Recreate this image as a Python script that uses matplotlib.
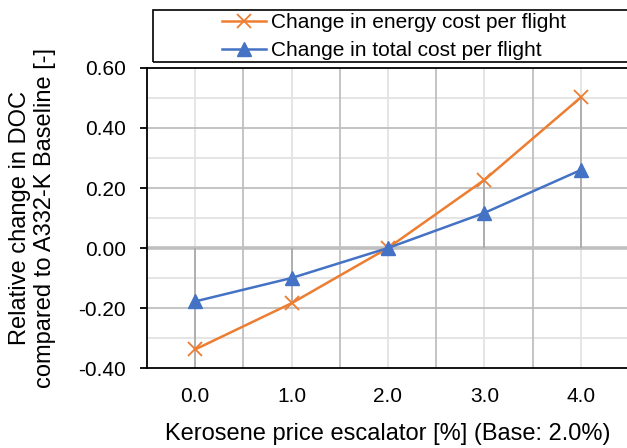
import matplotlib

matplotlib.use("Agg")

import matplotlib.pyplot as plt
import numpy as np
from matplotlib.patches import Rectangle

# Excel-like chart colours
ORANGE = "#ED7D31"
BLUE = "#4472C4"
GRID_MAJOR = "#BFBFBF"
GRID_MINOR = "#E3E3E3"

# data
escalator = ["0.0", "1.0", "2.0", "3.0", "4.0"]
energy_cost = [-0.338, -0.184, 0.0, 0.227, 0.502]
total_cost = [-0.178, -0.100, 0.0, 0.117, 0.260]
y_ticks = [-0.40, -0.20, 0.00, 0.20, 0.40, 0.60]

plt.rcParams.update(
    {
        "font.family": ["Liberation Sans", "DejaVu Sans"],
        "font.size": 15,
        "axes.linewidth": 1.3,
    }
)

W, H = 627, 448
fig = plt.figure(figsize=(W / 100, H / 100), dpi=100)
fig.patch.set_facecolor("white")

# plot area in pixels: left 147, right 629, top 68, bottom 368
ax = fig.add_axes([147 / W, (H - 368) / H, (629 - 147) / W, 300 / H])
x = np.arange(len(escalator))

ax.set_xlim(-0.5, len(escalator) - 0.5)
ax.set_ylim(y_ticks[0], y_ticks[-1])

# grid: minor lines at category centres / 0.1 steps, major at boundaries / 0.2 steps
for xc in x:
    ax.axvline(xc, color=GRID_MINOR, lw=1.3, zorder=0)
for xb in np.arange(-0.5, len(escalator), 1.0)[1:]:
    ax.axvline(xb, color=GRID_MAJOR, lw=1.3, zorder=0.5)
for yv in np.arange(y_ticks[0] + 0.1, y_ticks[-1], 0.2):
    ax.axhline(yv, color=GRID_MINOR, lw=1.3, zorder=0)
for yv in y_ticks[1:-1]:
    ax.axhline(yv, color=GRID_MAJOR, lw=1.3, zorder=0.5)
ax.axhline(0, color=GRID_MAJOR, lw=2.6, zorder=0.6)

# drop lines from the zero axis to the furthest point at each category
ends = [e if abs(e) >= abs(t) else t for e, t in zip(energy_cost, total_cost)]
ends[0] = y_ticks[0]
ax.vlines(x, 0, ends, color="#ABABAB", lw=1.3, zorder=0.7)

ax.plot(x, energy_cost, color=ORANGE, lw=1.8, marker="x", ms=10, mew=1.3,
        label="Change in energy cost per flight", zorder=3)
ax.plot(x, total_cost, color=BLUE, lw=1.8, marker="^", ms=10,
        label="Change in total cost per flight", zorder=3)

ax.set_xticks(x)
ax.set_xticklabels(escalator)
ax.set_yticks(y_ticks)
ax.set_yticklabels([f"{v:.2f}" for v in y_ticks])
ax.tick_params(axis="x", length=0, pad=14, labelsize=15)
ax.tick_params(axis="y", length=5, width=1.3, direction="out", pad=10, labelsize=15)

for side in ("left", "bottom", "top"):
    ax.spines[side].set_color("black")
ax.spines["right"].set_visible(False)

ax.set_xlabel("Kerosene price escalator [%] (Base: 2.0%)", fontsize=17, labelpad=12)
ax.set_ylabel("Relative change in DOC\ncompared to A332-K Baseline [-]",
              fontsize=17, labelpad=16, linespacing=1.2)

# legend box spanning to the right edge
fig.patches.append(Rectangle((153 / W, (H - 62) / H), (640 - 153) / W, 52 / H,
                             transform=fig.transFigure, fill=False,
                             edgecolor="black", lw=1.2))
fig.legend(loc="upper left", bbox_to_anchor=(222 / W, (H - 13) / H),
           frameon=False, fontsize=15, handlelength=2.1, handletextpad=0.25,
           labelspacing=0.45, borderaxespad=0, borderpad=0)

fig.savefig("out.png", dpi=100, facecolor="white")
